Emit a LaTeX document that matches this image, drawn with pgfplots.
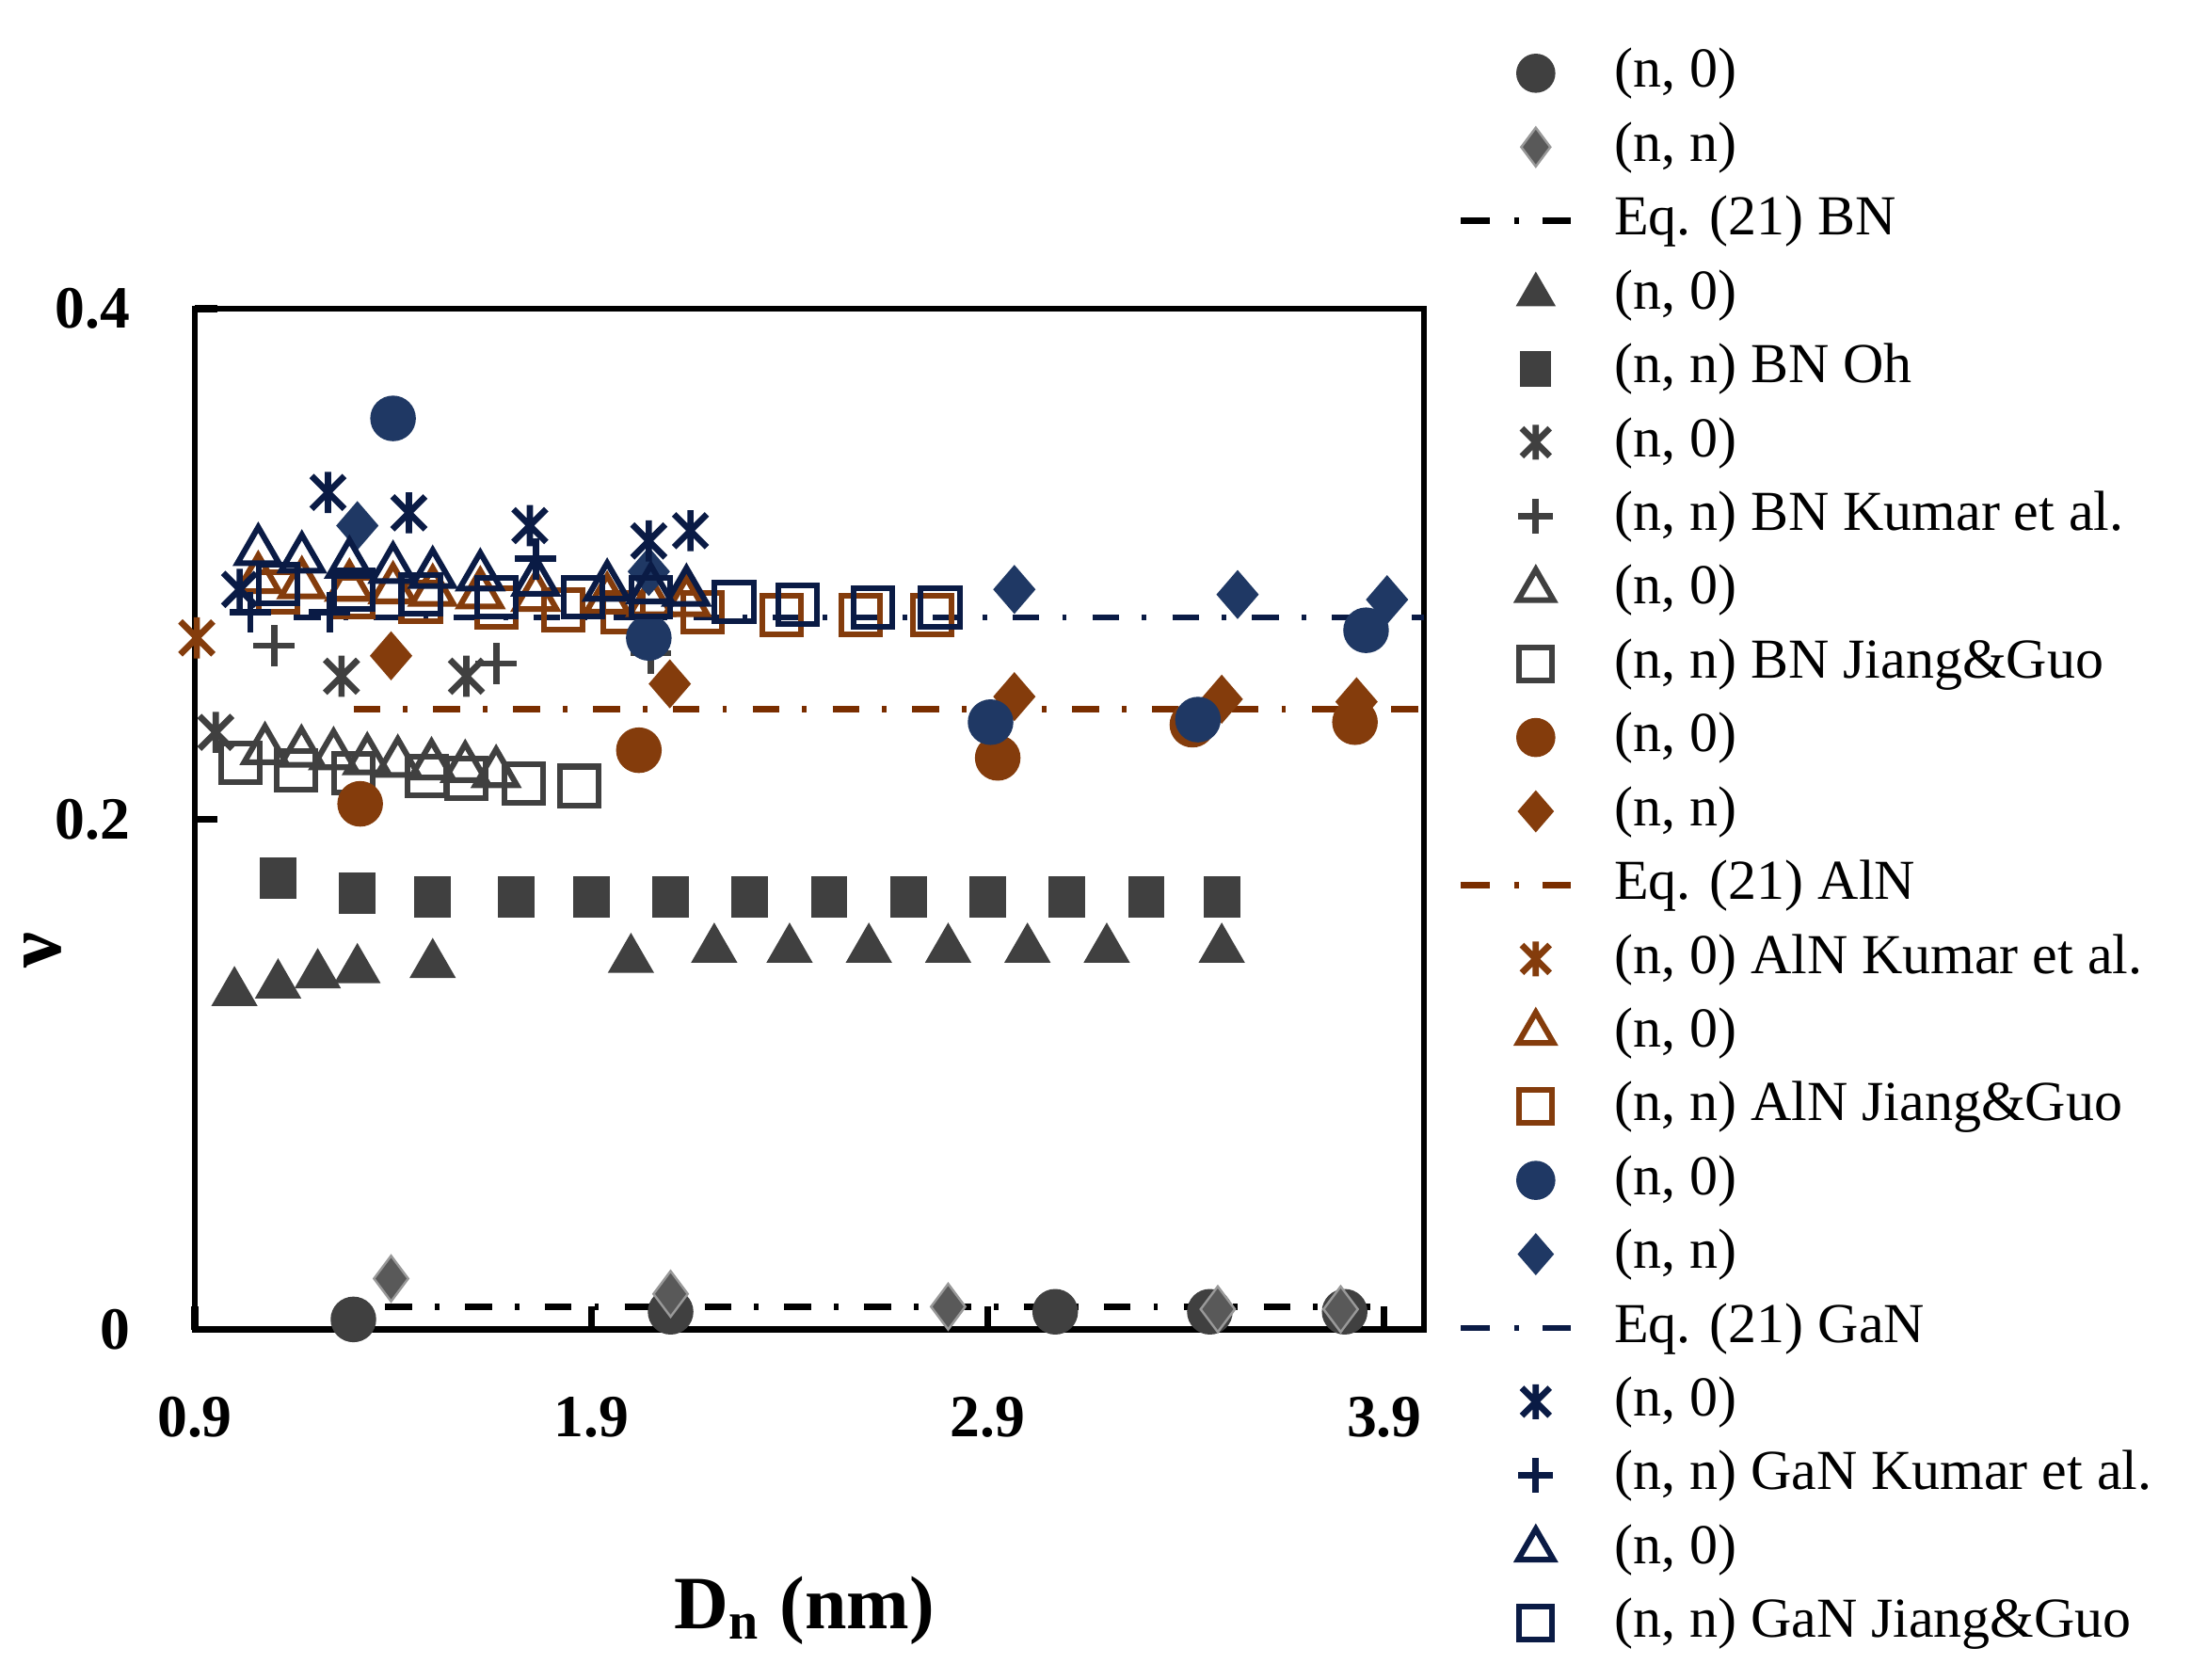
\documentclass[border=0pt]{standalone}
\usepackage{pgfplots}
\pgfplotsset{compat=1.18}
\usepackage{fontspec}
\setmainfont{Liberation Serif}
\usepackage{xcolor}
\definecolor{bngray}{HTML}{404040}
\definecolor{bndia}{HTML}{595959}
\definecolor{alnbrown}{HTML}{843C0C}
\definecolor{alnline}{HTML}{7A2E00}
\definecolor{gannavy}{HTML}{1F3864}
\definecolor{ganline}{HTML}{0A1B45}

% Excel style asterisk: X with a vertical bar
\pgfdeclareplotmark{xast}{%
  \pgfpathmoveto{\pgfqpoint{0pt}{\pgfplotmarksize}}%
  \pgfpathlineto{\pgfqpoint{0pt}{-\pgfplotmarksize}}%
  \pgfpathmoveto{\pgfqpoint{-0.8\pgfplotmarksize}{0.8\pgfplotmarksize}}%
  \pgfpathlineto{\pgfqpoint{0.8\pgfplotmarksize}{-0.8\pgfplotmarksize}}%
  \pgfpathmoveto{\pgfqpoint{-0.8\pgfplotmarksize}{-0.8\pgfplotmarksize}}%
  \pgfpathlineto{\pgfqpoint{0.8\pgfplotmarksize}{0.8\pgfplotmarksize}}%
  \pgfusepathqstroke}

\pgfplotsset{
  eqline/.style={line width=1.1pt, dash pattern=on 4.7pt off 4pt on 0.8pt off 4.5pt,
    legend image code/.code={%
      \path[draw=none, fill=none] (0pt,0pt) -- (19.3pt,0pt);
      \draw[##1,solid] (0pt,0pt) -- (5pt,0pt);
      \draw[##1,solid] (9.3pt,0pt) -- (10.1pt,0pt);
      \draw[##1,solid] (14.3pt,0pt) -- (19.3pt,0pt);}},
  dot/.style={only marks, mark=*, mark size=3.8pt},
  dia/.style={only marks, mark=diamond*, mark size=4pt, mark options={xscale=1.15}},
  tri/.style={only marks, mark=triangle*, mark size=4.3pt},
  sqr/.style={only marks, mark=square*, mark size=3pt, mark options={yscale=1.15}},
  ast/.style={only marks, mark=xast, mark size=3.6pt, line width=1.1pt},
  pls/.style={only marks, mark=+, mark size=3.6pt, line width=1.1pt},
  otri/.style={only marks, mark=triangle, mark size=4.2pt, line width=1pt},
  osqr/.style={only marks, mark=square, mark size=3.4pt, line width=1pt},
}

\begin{document}
\begin{tikzpicture}
\begin{axis}[
  scale only axis,
  width=215.5pt, height=179pt,
  xmin=0.9, xmax=4.0, ymin=0, ymax=0.4,
  xtick={0.9,1.9,2.9,3.9},
  xticklabels={0.9,1.9,2.9,3.9},
  ytick={0,0.2,0.4},
  yticklabels={0,0.2,0.4},
  tick align=inside, tick pos=left,
  major tick length=4pt,
  every tick/.style={black, line width=1.2pt},
  axis line style={line width=1.1pt},
  /pgf/number format/assume math mode=true,
  ticklabel style={font=\bfseries\fontsize{10.5}{12}\selectfont},
  xticklabel style={anchor=base, inner sep=0pt, yshift=-18.8pt},
  yticklabel style={anchor=east, inner sep=0pt, xshift=-11.1pt},
  xlabel={D\textsubscript{n} (nm)},
  xlabel style={font=\bfseries\fontsize{13.2}{16}\selectfont, at={(axis description cs:0.496,0)}, anchor=center, yshift=-49.2pt},
  ylabel={ν},
  ylabel style={font=\bfseries\fontsize{14}{16}\selectfont, at={(axis description cs:-0.124,0.372)}, anchor=center, rotate=0},
  clip=false,
  legend cell align=left,
  legend style={draw=none, fill=none, at={(1.0128,1.268)}, anchor=north west,
    font=\fontsize{9.9}{12}\selectfont, row sep=3.94pt, column sep=7pt,
    nodes={inner sep=0pt, text height=7pt, text depth=2pt}},
  legend image code/.code={%
    \path[draw=none, fill=none] (0pt,0pt) -- (19.3pt,0pt);
    \draw[#1, /tikz/every mark/.append style={scale=0.85}] plot coordinates {(13.1pt,0pt)};},
]
% ---------- BN ----------
\addplot[dot, color=bngray] coordinates {(1.30,0.004) (2.10,0.007) (3.07,0.007) (3.46,0.007) (3.80,0.007)};
\addlegendentry{(n, 0)}
\addplot[dia, mark options={fill=bndia, draw=gray!80}] coordinates {(1.395,0.020) (2.10,0.014) (2.80,0.009) (3.48,0.008) (3.79,0.008)};
\addlegendentry{(n, n)}
\addplot[eqline, color=black] coordinates {(1.38,0.009) (3.88,0.009)};
\addlegendentry{Eq. (21) BN}
\addplot[tri, color=bngray] coordinates {(1.00,0.132) (1.11,0.135) (1.21,0.139) (1.31,0.141) (1.50,0.143) (2.00,0.145) (2.21,0.149) (2.40,0.149) (2.60,0.149) (2.80,0.149) (3.00,0.149) (3.20,0.149) (3.49,0.149)};
\addlegendentry{(n, 0)}
\addplot[sqr, color=bngray] coordinates {(1.11,0.177) (1.31,0.171) (1.50,0.1695) (1.71,0.1695) (1.90,0.1695) (2.10,0.1695) (2.30,0.1695) (2.50,0.1695) (2.70,0.1695) (2.90,0.1695) (3.10,0.1695) (3.30,0.1695) (3.49,0.1695)};
\addlegendentry{(n, n) BN Oh}
\addplot[ast, color=bngray] coordinates {(0.953,0.234) (1.27,0.256) (1.585,0.256)};
\addlegendentry{(n, 0)}
\addplot[pls, color=bngray] coordinates {(1.10,0.268) (1.66,0.261) (2.05,0.265)};
\addlegendentry{(n, n) BN Kumar et al.}
\addplot[otri, color=bngray] coordinates {(1.077,0.227) (1.169,0.226) (1.25,0.225) (1.335,0.223) (1.412,0.222) (1.497,0.221) (1.582,0.220) (1.66,0.218)};
\addlegendentry{(n, 0)}
\addplot[osqr, color=bngray] coordinates {(1.015,0.222) (1.155,0.219) (1.30,0.218) (1.485,0.217) (1.585,0.216) (1.73,0.214) (1.87,0.213)};
\addlegendentry{(n, n) BN Jiang\&Guo}
% ---------- AlN ----------
\addplot[dot, color=alnbrown] coordinates {(1.317,0.206) (2.02,0.227) (2.925,0.224) (3.416,0.237) (3.826,0.238)};
\addlegendentry{(n, 0)}
\addplot[dia, color=alnbrown] coordinates {(1.395,0.264) (2.098,0.253) (2.967,0.248) (3.49,0.247) (3.83,0.246)};
\addlegendentry{(n, n)}
\addplot[eqline, color=alnline] coordinates {(1.30,0.243) (4.0,0.243)};
\addlegendentry{Eq. (21) AlN}
\addplot[ast, color=alnbrown] coordinates {(0.905,0.271)};
\addlegendentry{(n, 0) AlN Kumar et al.}
\addplot[otri, color=alnbrown] coordinates {(1.06,0.294) (1.17,0.292) (1.29,0.291) (1.40,0.290) (1.50,0.289) (1.62,0.288) (1.76,0.287) (1.94,0.286) (2.05,0.285) (2.14,0.285)};
\addlegendentry{(n, 0)}
\addplot[osqr, color=alnbrown] coordinates {(1.11,0.289) (1.30,0.287) (1.47,0.285) (1.66,0.283) (1.83,0.282) (1.98,0.281) (2.18,0.281) (2.38,0.280) (2.58,0.280) (2.76,0.280)};
\addlegendentry{(n, n) AlN Jiang\&Guo}
% ---------- GaN ----------
\addplot[dot, color=gannavy] coordinates {(1.40,0.357) (2.045,0.271) (2.907,0.238) (3.43,0.239) (3.854,0.274)};
\addlegendentry{(n, 0)}
\addplot[dia, color=gannavy] coordinates {(1.31,0.315) (2.045,0.297) (2.967,0.290) (3.53,0.288) (3.907,0.286)};
\addlegendentry{(n, n)}
\addplot[eqline, color=ganline] coordinates {(1.15,0.279) (4.0,0.279)};
\addlegendentry{Eq. (21) GaN}
\addplot[ast, color=ganline] coordinates {(1.013,0.290) (1.236,0.328) (1.44,0.320) (1.745,0.315) (2.045,0.309) (2.15,0.313)};
\addlegendentry{(n, 0)}
\addplot[pls, color=ganline] coordinates {(1.04,0.281) (1.24,0.281) (1.76,0.302)};
\addlegendentry{(n, n) GaN Kumar et al.}
\addplot[otri, color=ganline] coordinates {(1.06,0.305) (1.17,0.302) (1.29,0.300) (1.40,0.298) (1.50,0.296) (1.62,0.295) (1.76,0.293) (1.94,0.291) (2.05,0.290) (2.14,0.289)};
\addlegendentry{(n, 0)}
\addplot[osqr, color=ganline] coordinates {(1.11,0.292) (1.30,0.290) (1.47,0.288) (1.66,0.287) (1.88,0.287) (2.05,0.287) (2.26,0.285) (2.42,0.284) (2.61,0.283) (2.78,0.283)};
\addlegendentry{(n, n) GaN Jiang\&Guo}
% page frame with the reference's proportions
\path (rel axis cs:-0.1585,-0.3429) rectangle (rel axis cs:1.6371,1.3023);
\end{axis}
\end{tikzpicture}
\end{document}
